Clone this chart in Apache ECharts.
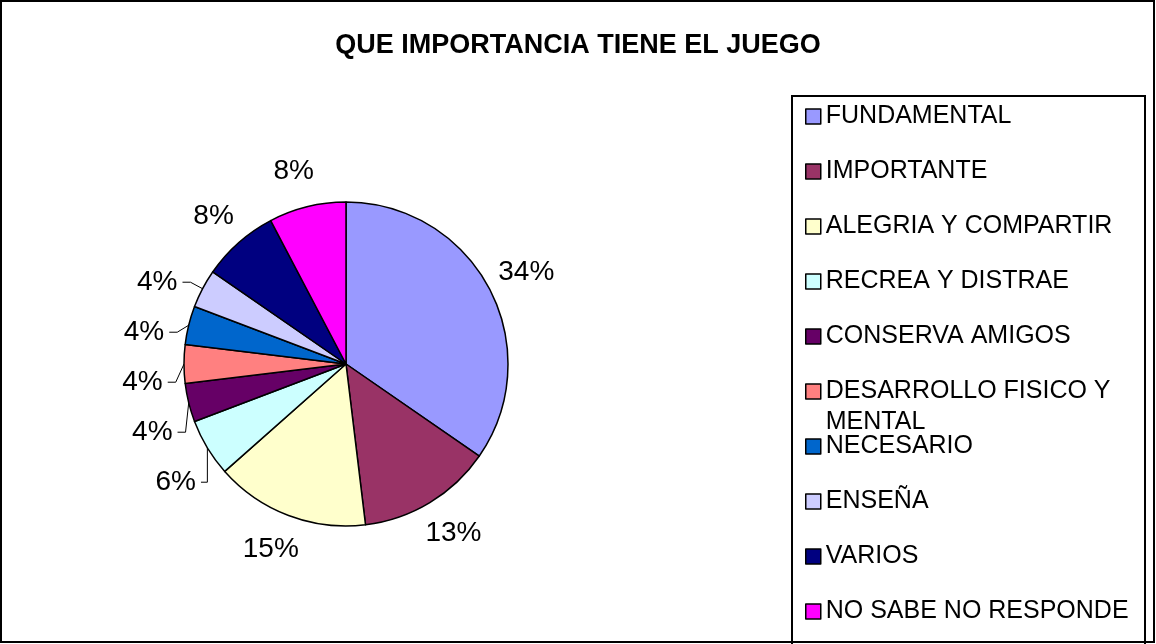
<!DOCTYPE html>
<html>
<head>
<meta charset="utf-8">
<script src="https://cdn.jsdelivr.net/npm/echarts@6/dist/echarts.min.js"></script>
<style>
html,body{margin:0;padding:0;background:#fff;}
#chart{width:1156px;height:644px;}
</style>
</head>
<body>
<div id="chart"></div>
<script>
// ---- data ----
const titleText = 'QUE IMPORTANCIA TIENE EL JUEGO';
const categories = ['FUNDAMENTAL','IMPORTANTE','ALEGRIA Y COMPARTIR','RECREA Y DISTRAE','CONSERVA AMIGOS','DESARROLLO FISICO Y\nMENTAL','NECESARIO','ENSEÑA','VARIOS','NO SABE NO RESPONDE'];
const values = [18, 7, 8, 3, 2, 2, 2, 2, 4, 4];
const percentLabels = ['34%','13%','15%','6%','4%','4%','4%','4%','8%','8%'];
const colors = ['#9999FF','#993366','#FFFFCC','#CCFFFF','#660066','#FF8080','#0066CC','#CCCCFF','#000080','#FF00FF'];

const FONT = "'Liberation Sans', Arial, sans-serif";
const chart = echarts.init(document.getElementById('chart'), null, {renderer:'canvas'});

const isBig = v => v >= 4;

const seriesData = categories.map((name, i) => {
  const big = isBig(values[i]);
  return {
    name: name,
    value: values[i],
    itemStyle: { color: colors[i] },
    label: big ? {} : { lineHeight: 48 },
    labelLine: big ? { show: false, length: 36, length2: 0 } : { show: true, length: 14, length2: 8 }
  };
});

// legend: one block per entry, rows evenly spaced
const rowFirst = 116.5, rowStep = 55, lineH = 25, multiLineH = 31;
const legends = categories.map((name, i) => {
  const multi = name.indexOf('\n') >= 0;
  const lines = multi ? name.split('\n').length * 2 - 1 : 1;
  const lh = multi ? multiLineH : lineH;
  const h = lh * lines;
  return {
    data: [name],
    orient: 'vertical',
    left: 805,
    top: rowFirst + rowStep * i - h / 2,
    padding: 0,
    icon: 'rect',
    itemWidth: 15,
    itemHeight: 15,
    selectedMode: false,
    formatter: n => multi ? ' \n' + n : n,
    itemStyle: { borderColor: '#000', borderWidth: 1.5 },
    textStyle: { fontSize: 25, lineHeight: lh, color: '#000', fontFamily: FONT }
  };
});

const option = {
  animation: false,
  backgroundColor: '#fff',
  title: {
    text: titleText,
    left: 'center',
    top: 27,
    textStyle: { fontSize: 27, fontWeight: 'bold', color: '#000', fontFamily: FONT }
  },
  legend: legends,
  graphic: [
    { type: 'rect', shape: { x: 1, y: 1, width: 1153, height: 641 }, style: { fill: 'none', stroke: '#000', lineWidth: 2 }, z: 100 },
    { type: 'rect', shape: { x: 792, y: 96, width: 353, height: 560 }, style: { fill: 'none', stroke: '#000', lineWidth: 2 }, z: 100 }
  ],
  series: [{
    type: 'pie',
    center: [346, 364],
    radius: [0, 162],
    startAngle: 90,
    clockwise: true,
    avoidLabelOverlap: true,
    itemStyle: { borderColor: '#000', borderWidth: 1.5 },
    label: {
      show: true,
      position: 'outside',
      fontSize: 28,
      color: '#000',
      fontFamily: FONT,
      formatter: p => percentLabels[p.dataIndex]
    },
    labelLine: { lineStyle: { color: '#000', width: 1 }, smooth: false },
    labelLayout: p => isBig(values[p.dataIndex]) ? { align: 'center' } : {},
    emphasis: { disabled: true },
    data: seriesData
  }]
};
chart.setOption(option);
</script>
</body>
</html>
